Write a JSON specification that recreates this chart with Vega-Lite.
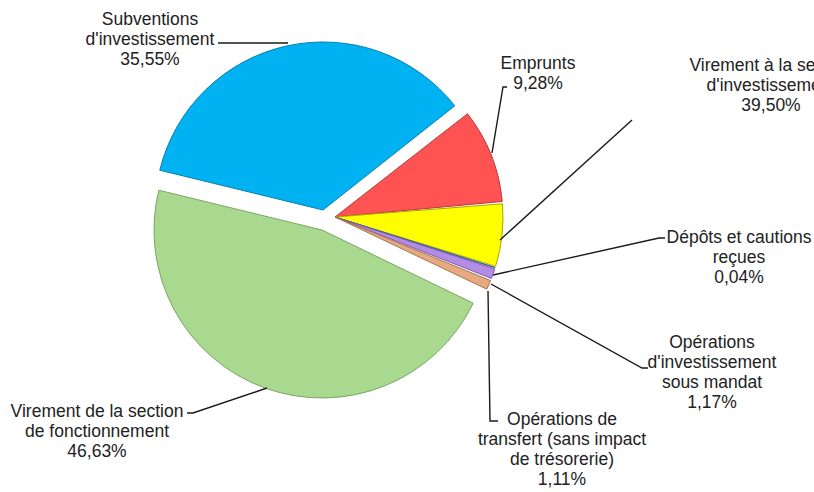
{
  "$schema": "https://vega.github.io/schema/vega-lite/v6.json",
  "width": 814,
  "height": 492,
  "autosize": {"type": "none"},
  "padding": 0,
  "background": "white",
  "config": {"view": {"stroke": null}, "font": "Liberation Sans"},
  "datasets": {
    "slices": [
      {"name": "Emprunts", "value": 9.28, "ord": 1},
      {"name": "Virement à la section d'investissement", "value": 6.22, "ord": 2},
      {"name": "Dépôts et cautions reçues", "value": 0.04, "ord": 3},
      {"name": "Opérations d'investissement sous mandat", "value": 1.17, "ord": 4},
      {"name": "Opérations de transfert (sans impact de trésorerie)", "value": 1.11, "ord": 5},
      {"name": "Virement de la section de fonctionnement", "value": 46.63, "ord": 6},
      {"name": "Subventions d'investissement", "value": 35.55, "ord": 7}
    ],
    "labels": [
      {"lines": ["Subventions", "d'investissement", "35,55%"], "x": -185, "y": 197},
      {"lines": ["Emprunts", "9,28%"], "x": 203, "y": 153},
      {"lines": ["Virement à la section", "d'investissement", "39,50%"], "x": 436, "y": 151},
      {"lines": ["Dépôts et cautions", "reçues", "0,04%"], "x": 404, "y": -21},
      {"lines": ["Opérations", "d'investissement", "sous mandat", "1,17%"], "x": 377, "y": -126},
      {"lines": ["Opérations de", "transfert (sans impact", "de trésorerie)", "1,11%"], "x": 227, "y": -203},
      {"lines": ["Virement de la section", "de fonctionnement", "46,63%"], "x": -238, "y": -195}
    ],
    "leaders": [
      {"id": 1, "seq": 1, "x": -117, "y": 174},
      {"id": 1, "seq": 2, "x": -47, "y": 174},
      {"id": 2, "seq": 1, "x": 172, "y": 130},
      {"id": 2, "seq": 2, "x": 168, "y": 130},
      {"id": 2, "seq": 3, "x": 157, "y": 64},
      {"id": 3, "seq": 1, "x": 165, "y": -23},
      {"id": 3, "seq": 2, "x": 297, "y": 97},
      {"id": 4, "seq": 1, "x": 158, "y": -58},
      {"id": 4, "seq": 2, "x": 324, "y": -21},
      {"id": 4, "seq": 3, "x": 330, "y": -21},
      {"id": 5, "seq": 1, "x": 156, "y": -67},
      {"id": 5, "seq": 2, "x": 307, "y": -151},
      {"id": 5, "seq": 3, "x": 313, "y": -151},
      {"id": 6, "seq": 1, "x": 153, "y": -74},
      {"id": 6, "seq": 2, "x": 155, "y": -204},
      {"id": 6, "seq": 3, "x": 163, "y": -204},
      {"id": 7, "seq": 1, "x": -148, "y": -196},
      {"id": 7, "seq": 2, "x": -142, "y": -196},
      {"id": 7, "seq": 3, "x": -68, "y": -171}
    ]
  },
  "layer": [
    {
      "data": {"name": "slices"},
      "transform": [
        {"stack": "value", "groupby": [], "sort": [{"field": "ord", "order": "ascending"}], "as": ["s0", "s1"]}
      ],
      "encoding": {
        "theta": {"field": "s0", "type": "quantitative", "scale": {"domain": [0, 100], "range": [0.902, 7.185]}},
        "theta2": {"field": "s1"},
        "color": {
          "field": "name", "type": "nominal", "legend": null,
          "scale": {
            "domain": ["Emprunts", "Virement à la section d'investissement", "Dépôts et cautions reçues", "Opérations d'investissement sous mandat", "Opérations de transfert (sans impact de trésorerie)", "Virement de la section de fonctionnement", "Subventions d'investissement"],
            "range": ["#FF5252", "#FFFF00", "#4F81BD", "#B48CE6", "#E6AA82", "#A9D98E", "#00B2F2"]
          }
        },
        "stroke": {
          "field": "name", "type": "nominal", "legend": null,
          "scale": {
            "domain": ["Emprunts", "Virement à la section d'investissement", "Dépôts et cautions reçues", "Opérations d'investissement sous mandat", "Opérations de transfert (sans impact de trésorerie)", "Virement de la section de fonctionnement", "Subventions d'investissement"],
            "range": ["#B83A3A", "#A8A800", "#2F5F9D", "#7E5CB0", "#A87550", "#7BA462", "#0A80B0"]
          }
        }
      },
      "layer": [
        {
          "transform": [{"filter": {"not": {"field": "name", "oneOf": ["Subventions d'investissement", "Virement de la section de fonctionnement"]}}}],
          "mark": {"type": "arc", "outerRadius": 168, "padAngle": 0.014, "strokeWidth": 1},
          "encoding": {
            "x": {"datum": 0, "type": "quantitative", "scale": {"domain": [-335, 479], "nice": false, "zero": false}, "axis": null},
            "y": {"datum": 0, "type": "quantitative", "scale": {"domain": [-275, 217], "nice": false, "zero": false}, "axis": null}
          }
        },
        {
          "transform": [{"filter": {"field": "name", "equal": "Subventions d'investissement"}}],
          "mark": {"type": "arc", "outerRadius": 168, "strokeWidth": 1},
          "encoding": {
            "x": {"datum": -12, "type": "quantitative"},
            "y": {"datum": 7, "type": "quantitative"}
          }
        },
        {
          "transform": [{"filter": {"field": "name", "equal": "Virement de la section de fonctionnement"}}],
          "mark": {"type": "arc", "outerRadius": 168, "strokeWidth": 1},
          "encoding": {
            "x": {"datum": -13, "type": "quantitative"},
            "y": {"datum": -13, "type": "quantitative"}
          }
        }
      ]
    },
    {
      "data": {"name": "leaders"},
      "mark": {"type": "line", "color": "#1a1a1a", "strokeWidth": 1.4},
      "encoding": {
        "x": {"field": "x", "type": "quantitative"},
        "y": {"field": "y", "type": "quantitative"},
        "detail": {"field": "id", "type": "nominal"},
        "order": {"field": "seq", "type": "quantitative"}
      }
    },
    {
      "data": {"name": "labels"},
      "mark": {"type": "text", "fontSize": 17.5, "lineHeight": 20, "align": "center", "baseline": "middle", "color": "#222222"},
      "encoding": {
        "x": {"field": "x", "type": "quantitative"},
        "y": {"field": "y", "type": "quantitative"},
        "text": {"field": "lines"}
      }
    }
  ]
}
